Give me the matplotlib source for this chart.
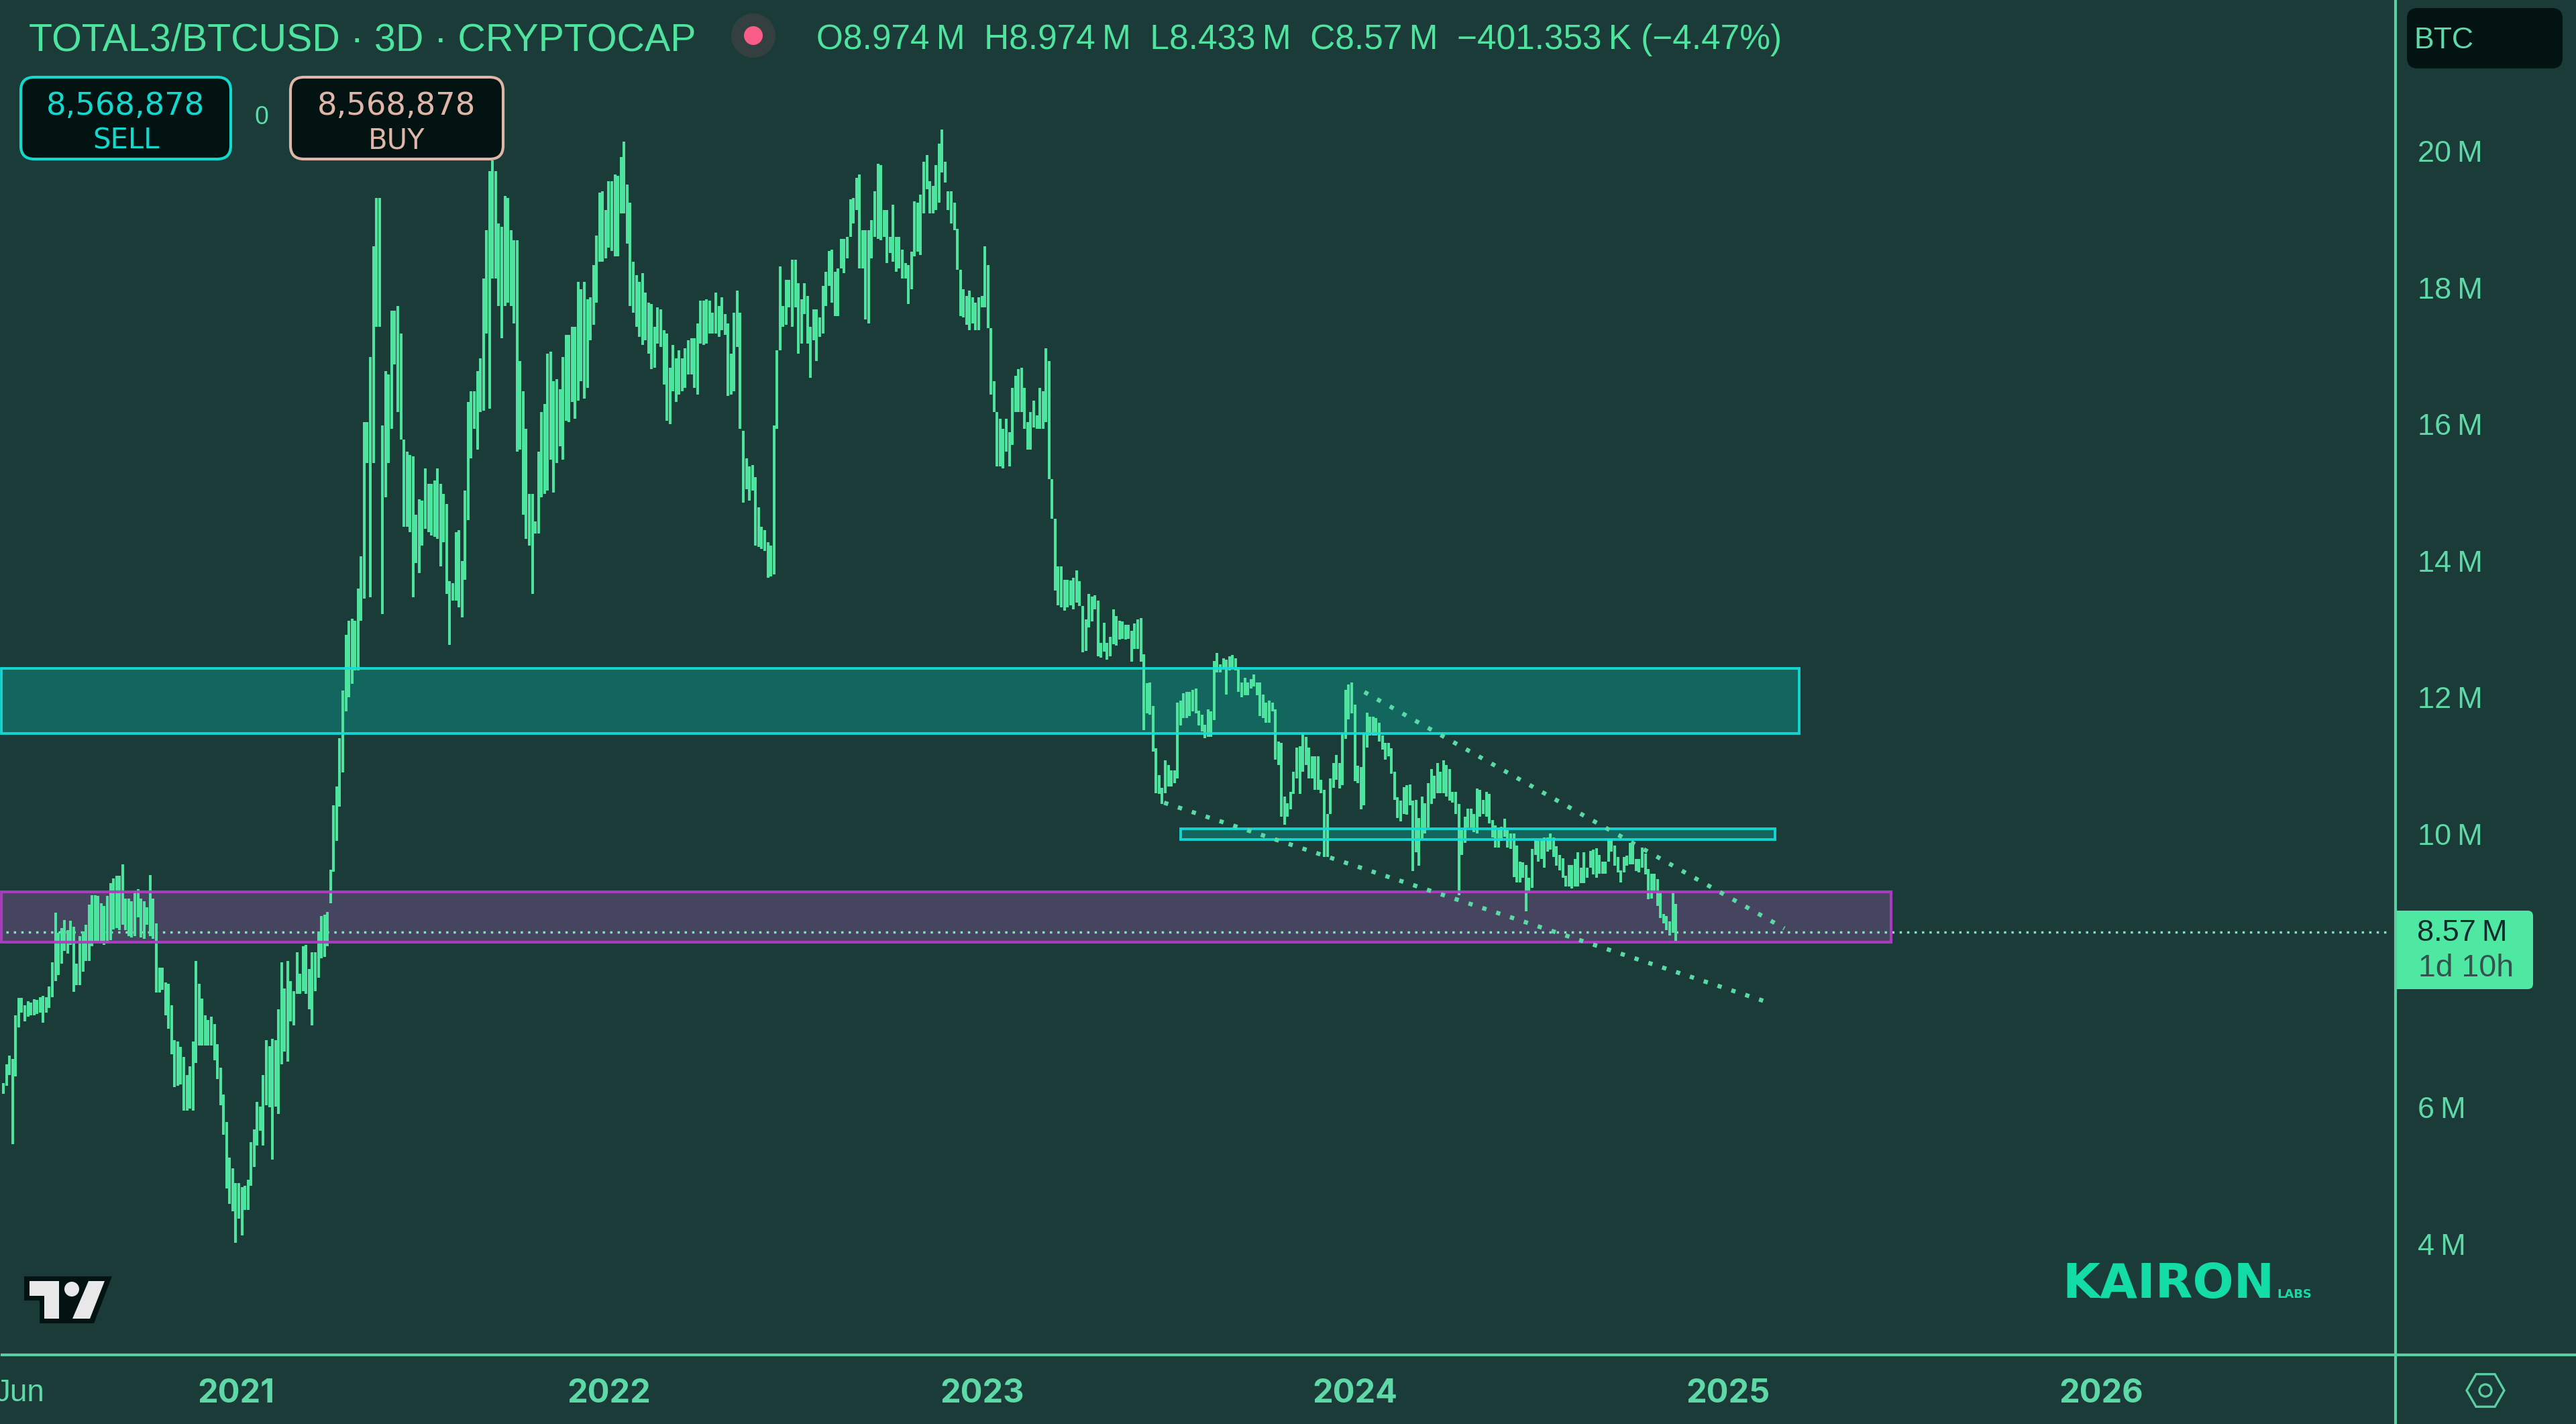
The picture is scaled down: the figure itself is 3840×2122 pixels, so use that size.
import numpy as np
import matplotlib
matplotlib.use("Agg")
import matplotlib.pyplot as plt
from matplotlib.patches import Rectangle, FancyBboxPatch, Circle, Polygon, RegularPolygon

# 3D bars, values in millions
highs = [
    6.36,6.63,6.76,6.71,7.35,7.60,7.60,7.50,7.55,7.53,
    7.58,7.57,7.61,7.63,7.61,7.77,8.12,8.85,8.56,8.62,
    8.74,8.60,8.73,8.64,8.10,8.51,8.58,8.67,8.97,9.11,
    9.11,9.10,8.99,8.95,9.10,9.28,9.35,9.39,9.39,9.56,9.06,
    9.06,9.02,9.17,9.19,9.06,9.02,8.93,9.40,9.06,8.69,
    8.05,8.05,7.83,7.81,7.50,6.98,6.96,6.89,6.74,6.47,6.60,
    6.96,8.14,7.81,7.59,7.35,7.28,7.33,7.22,6.93,6.58,
    6.19,5.79,5.27,5.11,4.89,4.89,4.83,4.85,4.94,5.49,
    5.68,6.08,6.01,6.47,6.98,6.90,7.00,6.98,7.44,8.12,7.74,
    8.14,7.85,7.70,8.27,7.96,8.36,8.38,8.03,8.27,8.27,8.58,
    8.80,8.82,8.86,9.48,10.42,10.70,11.40,12.10,
    12.92,13.12,13.15,13.12,13.60,
    14.07,16.03,16.03,16.98,18.61,19.31,19.31,15.98,16.78,16.73,
    17.66,17.66,17.73,17.33,15.78,15.60,15.55,15.53,14.68,14.90,
    14.88,15.35,15.13,15.13,15.18,15.35,15.13,14.98,14.83,13.70,
    13.67,14.42,14.45,14.00,15.03,16.33,16.48,16.48,16.78,16.96,
    18.13,18.84,19.71,19.86,19.71,18.94,18.89,19.34,19.31,18.84,
    18.69,18.69,16.93,16.48,15.93,14.98,14.98,14.58,15.60,16.18,
    16.30,17.03,17.06,16.63,16.66,16.51,16.98,17.31,17.31,17.43,
    17.43,18.08,17.98,18.08,17.83,17.86,18.33,18.76,19.39,19.41,
    19.14,19.56,19.56,19.66,19.64,19.91,20.14,19.51,19.24,18.38,
    18.18,18.08,18.21,17.93,17.78,17.76,17.43,17.71,17.68,17.38,
    17.33,16.83,17.16,16.96,17.08,16.96,17.11,17.23,17.26,17.26,
    17.48,17.81,17.81,17.83,17.81,17.63,17.93,17.73,17.86,17.61,
    17.48,17.03,17.63,17.96,17.63,15.90,15.50,15.38,15.40,15.23,
    14.78,14.50,14.45,14.27,14.22,15.98,17.08,18.31,17.73,18.11,
    18.11,18.41,18.41,18.06,17.83,18.06,17.88,17.43,17.68,17.68,
    17.56,18.03,18.23,18.54,18.56,18.23,18.28,18.71,18.71,18.74,
    19.29,19.31,19.61,19.66,18.84,18.84,18.84,18.99,19.41,19.81,
    19.79,19.14,19.14,18.74,19.21,18.74,18.74,18.56,18.36,18.33,
    18.53,19.26,19.24,19.36,19.84,19.94,19.56,19.49,19.79,20.11,
    20.31,19.84,19.41,19.41,19.24,18.86,18.26,17.98,17.88,17.96,
    17.86,17.78,17.86,17.88,18.61,18.33,17.41,16.63,16.18,16.08,
    15.93,16.08,15.88,16.53,16.71,16.81,16.83,16.53,16.03,16.18,
    16.35,16.13,16.53,16.48,17.11,16.93,15.20,14.62,13.92,13.92,
    13.72,13.72,
    13.71,13.75,13.86,13.70,13.34,13.14,13.52,13.48,13.50,13.42,
    12.80,13.09,12.80,12.89,13.29,13.19,13.12,13.11,13.06,13.06,
    12.98,13.08,13.14,13.16,12.63,12.21,12.22,11.88,11.26,10.86,
    10.68,11.08,11.01,10.93,10.93,11.93,11.95,12.06,12.08,12.08,
    12.11,12.13,11.81,11.75,11.60,11.83,11.80,12.53,12.65,12.49,
    12.57,12.55,12.60,12.62,12.57,12.45,12.22,12.29,12.22,12.27,
    12.34,12.22,12.22,12.04,11.93,11.95,11.93,11.83,11.36,11.34,
    10.55,10.45,10.62,10.91,11.27,11.29,11.47,11.42,11.27,11.14,
    11.14,11.14,10.80,10.65,10.29,10.82,11.04,11.16,11.04,11.47,
    12.11,12.19,12.22,11.90,11.00,10.98,11.47,11.78,11.72,11.72,
    11.70,
    11.63,11.44,11.34,11.34,11.26,10.91,10.54,10.49,10.69,10.72,
    10.73,10.49,10.50,10.24,10.55,10.45,10.75,10.95,10.85,11.04,
    10.91,11.08,11.01,10.95,10.62,10.62,10.44,10.06,10.26,10.37,
    10.37,10.29,10.67,10.65,10.50,10.62,10.59,10.21,10.13,10.10,
    10.11,10.23,10.06,10.01,10.01,9.83,9.60,9.59,9.55,9.36,
    9.78,9.91,9.90,9.91,9.95,9.95,10.01,9.95,9.82,9.70,
    9.65,9.39,9.55,9.55,9.64,9.73,9.51,9.73,9.51,9.75,
    9.77,9.79,9.70,9.60,9.60,9.93,9.93,9.83,9.67,9.47,
    9.67,9.69,9.87,9.88,9.64,9.64,9.80,9.72,9.49,9.42,
    9.42,9.34,9.16,8.83,8.80,8.72,9.16,8.98,
]
lows = [
    6.20,6.32,6.47,5.46,6.45,7.17,7.39,7.26,7.33,7.35,
    7.35,7.37,7.39,7.24,7.39,7.46,7.61,7.85,7.94,8.10,
    8.29,8.25,8.38,7.69,7.79,7.79,7.99,8.14,8.14,8.36,
    8.42,8.42,8.40,8.38,8.40,8.45,8.61,8.62,8.60,8.67,8.60,
    8.51,8.49,8.51,8.78,8.49,8.47,8.67,8.51,8.47,7.68,
    7.68,7.72,7.35,7.15,6.78,6.30,6.32,6.34,5.95,5.95,5.98,
    5.95,6.65,6.91,6.91,6.91,6.91,6.91,6.69,6.41,6.03,
    5.60,4.81,4.59,4.48,4.02,4.37,4.13,4.50,4.50,4.85,
    5.13,5.44,5.66,5.44,6.03,6.00,5.24,6.01,5.90,6.63,6.82,
    6.67,7.26,7.20,7.66,7.66,7.70,7.66,7.44,7.20,7.70,7.90,
    8.18,8.20,8.36,8.99,9.45,9.90,10.40,10.90,
    11.80,12.00,12.20,12.40,12.40,
    13.12,13.45,15.43,13.47,15.43,17.43,17.43,13.22,14.93,15.43,
    15.93,16.88,16.18,15.78,14.50,14.50,14.42,13.47,13.97,13.82,
    14.22,14.47,14.42,14.37,14.35,14.32,13.92,14.27,13.52,12.77,
    13.42,13.42,13.32,13.17,13.72,14.60,15.50,15.93,15.63,16.18,
    16.20,17.33,16.23,18.13,18.13,17.73,17.26,17.73,17.78,17.73,
    17.48,15.60,15.63,14.68,14.32,14.22,13.52,14.40,14.40,14.93,
    14.98,15.03,15.48,15.00,15.43,15.68,15.48,16.05,16.03,16.33,
    16.08,16.35,16.63,16.38,16.53,17.23,17.46,17.78,18.38,18.38,
    18.43,18.59,18.54,18.46,18.46,19.09,19.09,18.64,17.73,17.63,
    17.43,17.28,17.16,17.23,17.03,16.81,16.83,17.18,17.13,16.58,
    16.05,16.00,16.48,16.33,16.43,16.48,16.53,16.73,16.73,16.53,
    16.43,17.18,17.16,17.18,17.33,17.33,17.33,17.28,17.38,17.31,
    16.41,16.43,16.48,17.13,15.93,14.85,15.05,14.88,15.03,14.22,
    14.20,14.17,14.15,13.75,13.77,13.80,15.93,17.08,17.43,17.46,
    17.71,17.43,17.71,17.03,17.18,17.61,17.18,16.68,17.23,16.93,
    17.28,17.33,17.73,18.03,17.78,17.58,17.58,18.28,18.21,18.43,
    18.74,18.94,19.14,18.28,18.28,17.53,17.48,18.43,18.74,18.71,
    18.69,18.74,18.36,18.51,18.38,18.23,18.28,18.13,18.13,17.76,
    17.98,18.46,18.53,18.48,19.09,19.44,19.09,19.09,19.14,19.24,
    19.69,19.54,19.14,18.94,18.84,18.26,17.58,17.56,17.46,17.38,
    17.48,17.38,17.38,17.71,17.71,17.41,16.43,16.18,15.38,15.38,
    15.35,15.60,15.38,15.70,16.18,16.18,16.18,15.93,15.63,15.63,
    15.95,15.93,15.93,15.93,16.03,15.20,14.62,13.57,13.35,13.32,
    13.27,13.32,
    13.35,13.29,13.39,13.34,12.66,12.68,13.03,13.11,13.29,12.60,
    12.58,12.67,12.55,12.60,12.78,12.76,12.85,12.86,12.85,12.86,
    12.52,12.71,12.71,12.52,11.52,11.77,11.75,11.21,10.60,10.59,
    10.44,10.60,10.70,10.70,10.75,10.82,11.59,11.70,11.70,11.73,
    11.80,11.77,11.59,11.50,11.40,11.42,11.42,11.67,12.37,12.37,
    12.42,12.04,12.40,12.42,12.40,12.08,12.00,12.03,12.03,12.13,
    12.16,12.03,11.73,11.70,11.63,11.63,11.80,11.09,11.01,10.26,
    10.14,10.26,10.36,10.59,10.82,10.59,10.91,11.01,10.82,10.82,
    10.65,10.65,10.60,9.67,9.67,10.29,10.68,10.80,10.67,10.72,
    11.39,11.68,11.77,10.78,10.75,10.36,10.42,11.27,11.44,11.44,
    11.44,
    11.36,11.24,11.09,11.14,10.88,10.50,10.24,10.19,10.29,10.28,
    10.42,9.46,9.73,9.54,9.93,10.01,10.10,10.44,10.52,10.60,
    10.60,10.60,10.55,10.49,10.46,10.29,9.11,9.70,9.87,10.10,
    10.10,10.03,10.01,10.26,10.29,10.26,10.16,9.95,9.80,9.80,
    9.90,9.96,9.80,9.78,9.37,9.29,9.29,9.36,8.87,9.15,
    9.21,9.70,9.60,9.64,9.51,9.74,9.77,9.67,9.54,9.47,
    9.36,9.23,9.23,9.20,9.23,9.23,9.28,9.28,9.36,9.51,
    9.41,9.36,9.42,9.42,9.42,9.60,9.74,9.54,9.44,9.29,
    9.44,9.54,9.56,9.56,9.46,9.44,9.51,9.41,9.05,9.06,
    9.16,8.95,8.77,8.69,8.60,8.52,8.56,8.43,
]
first_bar_year = 2020.376
last_bar_year = 2024.860

# 8 M sits behind the last price label in the reference
y_ticks = [4, 6, 10, 12, 14, 16, 18, 20]
x_ticks = [2020.42, 2021, 2022, 2023, 2024, 2025, 2026]
x_labels = ["Jun", "2021", "2022", "2023", "2024", "2025", "2026"]

last_price = 8.57

# zones: (left year, right year, low, high)
big_zone = (2020.37, 2025.19, 11.47, 12.43)
small_zone = (2023.533, 2025.125, 9.92, 10.08)
purple_zone = (2020.37, 2025.437, 8.42, 9.155)

upper_trend_x = [2024.025, 2025.151]
upper_trend_y = [12.08, 8.62]
lower_trend_x = [2023.488, 2025.10]
lower_trend_y = [10.46, 7.55]

BG = "#1A3B37"
GREEN = "#4FE3A0"
AXIS = "#5ACFA2"
LABEL = "#5FD8A8"
DARK = "#021312"
TEAL = "#14D8CE"
PEACH = "#E0B6A8"

plt.rcParams["font.family"] = ["Liberation Sans", "DejaVu Sans"]

W, H = 3840, 2122
AX_R, AX_B = 3571, 2019

fig = plt.figure(figsize=(W / 100, H / 100), dpi=100, facecolor=BG)
ax = fig.add_axes([0, (H - AX_B) / H, AX_R / W, AX_B / H], facecolor=BG)
ax.set_xlim(2021 - 352 / 556, 2021 + (AX_R - 352) / 556)
ax.set_ylim(20 - (AX_B - 225) / 101.8, 20 + 225 / 101.8)
for s in ax.spines.values():
    s.set_visible(False)


def add_zone(zone, face, edge, lw):
    left, right, low, high = zone
    ax.add_patch(Rectangle((left, low), right - left, high - low, facecolor=face,
                           edgecolor="none", zorder=1))
    return Rectangle((left, low), right - left, high - low, facecolor="none",
                     edgecolor=edge, linewidth=lw, zorder=4, alpha=0.95)


ax.add_patch(add_zone(purple_zone, "#464560", "#B03CC4", 3))
ax.add_patch(add_zone(big_zone, "#13665E", "#14DDD8", 2.8))
ax.add_patch(add_zone(small_zone, "#13665E", "#14DDD8", 2.8))

ax.axhline(last_price, xmin=0.0025, xmax=0.997, color="#8FDCC0", lw=2.5,
           linestyle=(0, (1, 2.2)), zorder=2)

bar_x = np.linspace(first_bar_year, last_bar_year, len(highs))
ax.vlines(bar_x, lows, highs, colors=GREEN, linewidth=2.9, capstyle="butt", zorder=3)

for tx, ty in ((upper_trend_x, upper_trend_y), (lower_trend_x, lower_trend_y)):
    ax.plot(tx, ty, color="#5AD8A6", lw=4.6, linestyle=(0, (1, 2.4)), dash_capstyle="butt", zorder=5)

ax.yaxis.tick_right()
ax.set_yticks(y_ticks)
ax.set_yticklabels([f"{v}\u2009M" for v in y_ticks])
ax.tick_params(axis="y", length=0, pad=24, labelsize=32.5, labelcolor=LABEL)
ax.set_xticks(x_ticks)
ax.set_xticklabels(x_labels)
ax.tick_params(axis="x", length=0, pad=25, labelsize=33, labelcolor=LABEL)
for lab in ax.get_xticklabels():
    if lab.get_text() != "Jun":
        lab.set_family(["Inter", "DejaVu Sans"])
        lab.set_fontweight("bold")
        lab.set_fontsize(35)

# screen furniture, in pixel coordinates of the picture
ui = fig.add_axes([0, 0, 1, 1], facecolor="none")
ui.set_xlim(0, W)
ui.set_ylim(H, 0)
ui.axis("off")

ui.plot([AX_R, AX_R], [0, H], color=AXIS, lw=3)
ui.plot([3, W - 2], [AX_B, AX_B], color=AXIS, lw=3)

ui.text(43, 60, "TOTAL3/BTCUSD \u00b7 3D \u00b7 CRYPTOCAP", color=GREEN, fontsize=41.3, va="center")
ui.add_patch(Circle((1123, 53), 33, facecolor="#34403F", edgecolor="none"))
ui.add_patch(Circle((1123, 53), 14, facecolor="#F95C86", edgecolor="none"))
ui.text(1217, 59, "O8.974\u2009M  H8.974\u2009M  L8.433\u2009M  C8.57\u2009M  \u2212401.353\u2009K (\u22124.47%)",
        color=GREEN, fontsize=37, va="center")


def button(x0, x1, edge, txt, word):
    y0, y1 = 115, 237
    ui.add_patch(FancyBboxPatch((x0 + 18, y0 + 18), x1 - x0 - 36, y1 - y0 - 36,
                                boxstyle="round,pad=18,rounding_size=20", facecolor=DARK,
                                edgecolor=edge, linewidth=3))
    ui.text((x0 + x1) / 2, 159, txt, color=edge, fontsize=33.5, ha="center", va="center",
            family=["DejaVu Sans"])
    ui.text((x0 + x1) / 2, 210, word, color=edge, fontsize=30, ha="center", va="center",
            family=["DejaVu Sans"])


button(31, 344, TEAL, "8,568,878", "SELL")
button(433, 750, PEACH, "8,568,878", "BUY")
ui.text(390, 175, "0", color=LABEL, fontsize=27, ha="center", va="center")

ui.add_patch(FancyBboxPatch((3604, 28), 200, 58, boxstyle="round,pad=16,rounding_size=16",
                            facecolor=DARK, edgecolor="none"))
ui.text(3598, 60, "BTC", color=LABEL, fontsize=32, va="center")

ui.add_patch(FancyBboxPatch((3583, 1365), 185, 101, boxstyle="round,pad=8,rounding_size=8",
                            facecolor="#4FE8A3", edgecolor="none"))
ui.add_patch(Rectangle((AX_R + 2, 1357), 20, 117, facecolor="#4FE8A3", edgecolor="none"))
ui.text(3603, 1391, "8.57\u2009M", color="#0F2A2A", fontsize=32.5, va="center")
ui.text(3605, 1443, "1d 10h", color="#35524F", fontsize=33.5, va="center")

ui.text(3074, 1934, "KAIRON", color="#14DCA6", fontsize=52, fontweight="bold", va="baseline",
        family=["DejaVu Sans"])
ui.text(3394, 1934, "LABS", color="#14DCA6", fontsize=13, fontweight="bold", va="baseline",
        family=["DejaVu Sans"])

ui.add_patch(Polygon([(36, 1902), (167, 1902), (140, 1972), (59, 1972), (59, 1938), (36, 1938)],
                     facecolor=DARK, edgecolor="none"))
ui.add_patch(Polygon([(44, 1909), (88, 1909), (88, 1965), (66, 1965), (66, 1931), (44, 1931)],
                     facecolor="#E8E8E8", edgecolor="none"))
ui.add_patch(Circle((107, 1921), 11, facecolor="#E8E8E8", edgecolor="none"))
ui.add_patch(Polygon([(132, 1909), (156, 1909), (134, 1965), (108, 1965)],
                     facecolor="#E8E8E8", edgecolor="none"))

ui.add_patch(RegularPolygon((3705, 2072), 6, radius=28, orientation=np.pi / 6,
                            facecolor="none", edgecolor=AXIS, linewidth=2.4))
ui.add_patch(Circle((3705, 2072), 9, facecolor="none", edgecolor=AXIS, linewidth=2.4))

fig.savefig("out.png", dpi=100, facecolor=BG)
